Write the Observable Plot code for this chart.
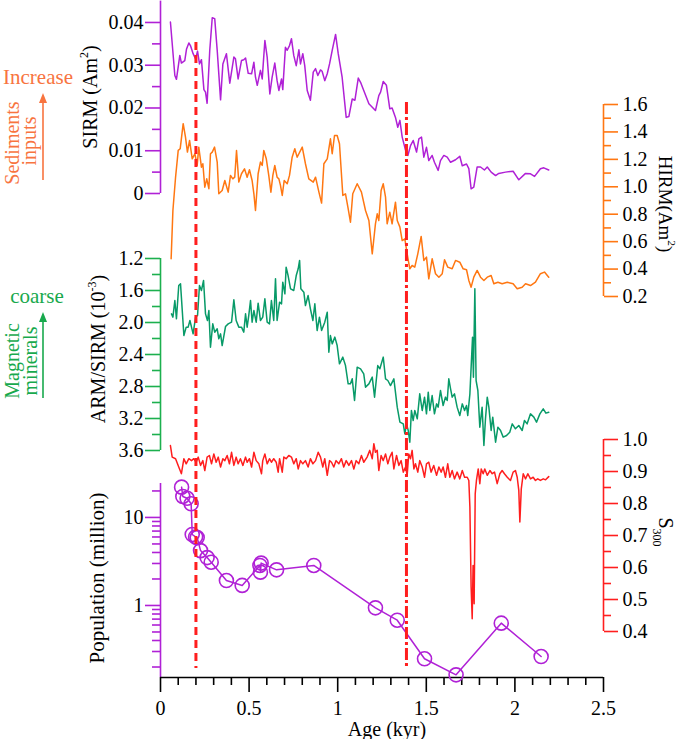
<!DOCTYPE html>
<html><head><meta charset="utf-8">
<script src="https://cdn.jsdelivr.net/npm/d3@7"></script>
<script src="https://cdn.jsdelivr.net/npm/@observablehq/plot@0.6"></script>
<style>
body{margin:0;background:#fff;font-family:"Liberation Serif","Times New Roman",serif;}
#chart{position:relative;width:678px;height:739px;}
#chart > svg{position:absolute;left:0;top:0;overflow:visible;background:transparent;}
#chart text{font-family:"Liberation Serif","Times New Roman",serif;}
</style></head><body><div id="chart"></div>
<script>
// ---- data: [age (kyr), value] ----
const sirm = [[0.056,0.0401],[0.081,0.0276],[0.090,0.0267],[0.109,0.0323],[0.118,0.0305],[0.137,0.0311],[0.147,0.0338],[0.160,0.0352],[0.169,0.0346],[0.184,0.0327],[0.198,0.0315],[0.209,0.0333],[0.220,0.0303],[0.231,0.0313],[0.245,0.0243],[0.254,0.0237],[0.263,0.0211],[0.278,0.0335],[0.292,0.0411],[0.306,0.0409],[0.320,0.0335],[0.339,0.0219],[0.352,0.0303],[0.372,0.0327],[0.391,0.0258],[0.414,0.0319],[0.423,0.0315],[0.438,0.0268],[0.457,0.0311],[0.470,0.0313],[0.480,0.0317],[0.495,0.0281],[0.514,0.0280],[0.527,0.0307],[0.536,0.0272],[0.546,0.0253],[0.564,0.0288],[0.574,0.0268],[0.589,0.0358],[0.602,0.0319],[0.617,0.0233],[0.630,0.0272],[0.645,0.0305],[0.658,0.0264],[0.668,0.0241],[0.683,0.0268],[0.690,0.0243],[0.705,0.0342],[0.715,0.0335],[0.728,0.0346],[0.739,0.0362],[0.752,0.0323],[0.766,0.0299],[0.781,0.0336],[0.790,0.0303],[0.803,0.0327],[0.814,0.0299],[0.828,0.0241],[0.846,0.0218],[0.862,0.0284],[0.875,0.0292],[0.888,0.0276],[0.903,0.0289],[0.912,0.0286],[0.927,0.0264],[0.941,0.0280],[0.954,0.0303],[0.969,0.0335],[0.988,0.0372],[1.003,0.0327],[1.025,0.0272],[1.048,0.0178],[1.063,0.0180],[1.082,0.0221],[1.097,0.0218],[1.116,0.0270],[1.129,0.0260],[1.147,0.0241],[1.176,0.0210],[1.213,0.0194],[1.232,0.0229],[1.242,0.0237],[1.257,0.0262],[1.275,0.0253],[1.294,0.0198],[1.307,0.0200],[1.326,0.0178],[1.339,0.0155],[1.351,0.0171],[1.364,0.0132],[1.383,0.0101],[1.396,0.0089],[1.411,0.0112],[1.426,0.0124],[1.445,0.0097],[1.458,0.0128],[1.473,0.0132],[1.486,0.0085],[1.501,0.0108],[1.514,0.0077],[1.533,0.0089],[1.546,0.0073],[1.567,0.0054],[1.580,0.0077],[1.599,0.0089],[1.618,0.0085],[1.637,0.0073],[1.665,0.0079],[1.689,0.0087],[1.703,0.0065],[1.727,0.0069],[1.740,0.0058],[1.753,0.0011],[1.768,0.0015],[1.787,0.0062],[1.806,0.0062],[1.828,0.0055],[1.844,0.0062],[1.866,0.0050],[1.891,0.0042],[1.909,0.0047],[1.947,0.0050],[1.990,0.0052],[2.022,0.0032],[2.060,0.0047],[2.088,0.0046],[2.111,0.0040],[2.144,0.0058],[2.163,0.0060],[2.191,0.0055]];

const hirm = [[0.060,0.475],[0.070,0.827],[0.085,1.070],[0.100,1.265],[0.111,1.277],[0.128,1.460],[0.141,1.362],[0.152,1.253],[0.164,1.338],[0.179,1.204],[0.194,1.241],[0.207,1.156],[0.216,1.289],[0.231,1.143],[0.239,1.168],[0.250,0.997],[0.261,1.058],[0.273,0.986],[0.282,1.241],[0.292,1.253],[0.305,1.289],[0.320,1.180],[0.329,0.949],[0.348,0.973],[0.363,1.046],[0.382,0.961],[0.395,1.083],[0.408,1.058],[0.419,1.070],[0.429,1.265],[0.442,1.034],[0.457,1.095],[0.474,1.131],[0.489,1.070],[0.502,1.124],[0.517,1.046],[0.527,0.949],[0.536,0.827],[0.551,1.095],[0.564,1.180],[0.574,1.156],[0.583,1.265],[0.597,1.204],[0.611,1.083],[0.623,0.961],[0.634,1.083],[0.645,1.156],[0.658,1.070],[0.668,1.058],[0.677,1.010],[0.687,0.937],[0.698,1.046],[0.715,1.022],[0.728,1.083],[0.743,1.216],[0.758,1.277],[0.771,1.216],[0.781,1.241],[0.800,1.289],[0.818,1.168],[0.837,1.058],[0.862,1.034],[0.875,1.070],[0.894,0.961],[0.909,0.881],[0.922,1.168],[0.941,1.204],[0.959,1.350],[0.969,1.241],[0.982,1.374],[0.997,1.374],[1.010,1.314],[1.029,0.937],[1.044,0.949],[1.059,0.840],[1.072,0.742],[1.085,0.949],[1.110,1.022],[1.134,0.961],[1.157,0.827],[1.176,0.754],[1.195,0.511],[1.213,0.730],[1.223,0.803],[1.232,0.754],[1.245,0.973],[1.257,1.022],[1.270,0.924],[1.279,0.730],[1.294,0.815],[1.307,0.730],[1.326,0.888],[1.336,0.754],[1.351,0.706],[1.364,0.608],[1.379,0.621],[1.392,0.511],[1.407,0.402],[1.420,0.426],[1.435,0.414],[1.452,0.511],[1.471,0.638],[1.486,0.463],[1.501,0.487],[1.514,0.329],[1.533,0.475],[1.552,0.366],[1.571,0.341],[1.590,0.366],[1.603,0.468],[1.621,0.414],[1.646,0.402],[1.665,0.463],[1.689,0.450],[1.708,0.402],[1.727,0.395],[1.740,0.317],[1.753,0.268],[1.768,0.341],[1.787,0.390],[1.806,0.341],[1.825,0.317],[1.844,0.341],[1.866,0.353],[1.881,0.293],[1.904,0.304],[1.928,0.293],[1.957,0.304],[1.990,0.293],[2.013,0.256],[2.041,0.268],[2.060,0.293],[2.088,0.280],[2.116,0.304],[2.144,0.366],[2.167,0.378],[2.191,0.341]];

const armSirm = [[0.062,1.892],[0.070,1.933],[0.081,1.725],[0.090,1.954],[0.103,1.538],[0.113,1.517],[0.132,2.163],[0.145,2.058],[0.156,2.058],[0.166,1.975],[0.175,2.058],[0.184,2.142],[0.198,1.933],[0.209,1.913],[0.220,1.538],[0.231,1.600],[0.243,1.475],[0.254,1.892],[0.265,1.975],[0.273,1.850],[0.282,2.308],[0.295,2.017],[0.306,2.121],[0.320,2.079],[0.329,2.204],[0.339,2.142],[0.348,2.288],[0.367,2.050],[0.382,2.017],[0.401,1.996],[0.414,1.717],[0.427,1.975],[0.442,2.058],[0.457,2.058],[0.470,2.121],[0.480,1.892],[0.489,2.058],[0.498,1.913],[0.508,1.725],[0.517,1.996],[0.527,1.850],[0.540,1.996],[0.551,1.758],[0.564,1.975],[0.577,1.933],[0.589,1.704],[0.602,1.996],[0.615,2.017],[0.626,1.725],[0.639,1.975],[0.649,1.454],[0.658,1.975],[0.672,1.746],[0.683,1.767],[0.690,1.496],[0.702,1.642],[0.709,1.308],[0.720,1.413],[0.734,1.579],[0.752,1.600],[0.766,1.413],[0.777,1.329],[0.785,1.225],[0.792,1.579],[0.809,1.621],[0.818,1.788],[0.833,1.663],[0.846,1.829],[0.860,1.975],[0.871,1.767],[0.884,2.100],[0.897,1.933],[0.909,2.100],[0.927,1.996],[0.941,1.871],[0.950,2.371],[0.959,2.163],[0.969,2.267],[0.984,2.183],[0.997,2.288],[1.010,2.517],[1.029,2.433],[1.044,2.538],[1.059,2.767],[1.072,2.767],[1.082,2.704],[1.095,2.975],[1.110,2.558],[1.129,2.579],[1.147,2.642],[1.157,2.808],[1.176,2.767],[1.195,2.683],[1.208,2.933],[1.226,2.538],[1.238,2.579],[1.257,2.433],[1.270,2.704],[1.283,2.725],[1.298,2.788],[1.317,2.704],[1.336,3.058],[1.351,3.246],[1.370,3.267],[1.379,3.392],[1.388,3.267],[1.398,3.350],[1.407,3.496],[1.416,3.100],[1.426,3.225],[1.435,3.100],[1.449,3.204],[1.463,2.892],[1.477,3.100],[1.490,2.933],[1.501,3.142],[1.511,2.871],[1.520,3.100],[1.533,2.913],[1.546,3.142],[1.558,3.017],[1.567,3.058],[1.580,2.850],[1.595,3.038],[1.608,2.933],[1.618,2.975],[1.627,2.704],[1.637,2.829],[1.646,2.933],[1.659,2.892],[1.674,3.058],[1.689,3.163],[1.703,3.017],[1.716,3.100],[1.727,3.038],[1.734,3.163],[1.746,2.892],[1.753,2.558],[1.761,2.183],[1.766,2.683],[1.774,1.579],[1.781,2.725],[1.791,2.850],[1.802,3.308],[1.815,3.058],[1.825,3.538],[1.834,3.204],[1.844,2.933],[1.853,3.058],[1.866,3.350],[1.875,3.183],[1.891,3.496],[1.904,3.308],[1.919,3.350],[1.934,3.433],[1.953,3.413],[1.971,3.371],[1.985,3.267],[2.003,3.329],[2.022,3.288],[2.041,3.350],[2.054,3.225],[2.069,3.267],[2.088,3.142],[2.107,3.183],[2.122,3.246],[2.141,3.142],[2.160,3.079],[2.175,3.133],[2.191,3.121]];

const s300 = [[0.056,0.981],[0.066,0.945],[0.085,0.940],[0.103,0.914],[0.118,0.893],[0.132,0.940],[0.145,0.924],[0.160,0.940],[0.175,0.934],[0.188,0.940],[0.201,0.929],[0.213,0.945],[0.226,0.919],[0.239,0.934],[0.250,0.903],[0.263,0.945],[0.276,0.950],[0.288,0.924],[0.301,0.955],[0.314,0.929],[0.326,0.945],[0.339,0.914],[0.352,0.940],[0.363,0.934],[0.376,0.950],[0.389,0.924],[0.401,0.960],[0.414,0.919],[0.427,0.945],[0.438,0.924],[0.451,0.940],[0.465,0.919],[0.480,0.945],[0.489,0.929],[0.502,0.940],[0.514,0.914],[0.527,0.960],[0.540,0.934],[0.555,0.924],[0.570,0.893],[0.577,0.934],[0.589,0.955],[0.602,0.924],[0.615,0.940],[0.626,0.929],[0.639,0.940],[0.653,0.929],[0.664,0.898],[0.672,0.940],[0.687,0.898],[0.696,0.945],[0.709,0.940],[0.724,0.950],[0.739,0.945],[0.752,0.924],[0.766,0.940],[0.777,0.908],[0.790,0.934],[0.803,0.924],[0.818,0.934],[0.833,0.914],[0.846,0.940],[0.860,0.924],[0.875,0.934],[0.890,0.960],[0.903,0.945],[0.916,0.914],[0.927,0.940],[0.941,0.888],[0.954,0.934],[0.965,0.929],[0.978,0.914],[0.991,0.934],[1.006,0.924],[1.021,0.940],[1.034,0.914],[1.048,0.934],[1.063,0.919],[1.078,0.934],[1.091,0.908],[1.104,0.934],[1.119,0.924],[1.134,0.950],[1.147,0.929],[1.166,0.945],[1.181,0.966],[1.195,0.940],[1.204,0.987],[1.213,0.960],[1.223,0.966],[1.232,0.903],[1.245,0.950],[1.257,0.934],[1.270,0.955],[1.283,0.924],[1.294,0.945],[1.307,0.960],[1.317,0.908],[1.332,0.950],[1.345,0.919],[1.358,0.934],[1.370,0.898],[1.383,0.914],[1.392,0.888],[1.401,0.955],[1.411,0.940],[1.420,0.966],[1.430,0.908],[1.439,0.924],[1.452,0.898],[1.463,0.934],[1.477,0.914],[1.490,0.882],[1.501,0.924],[1.514,0.929],[1.527,0.898],[1.542,0.919],[1.558,0.888],[1.571,0.914],[1.584,0.898],[1.595,0.914],[1.608,0.882],[1.621,0.924],[1.633,0.882],[1.646,0.903],[1.659,0.877],[1.674,0.898],[1.689,0.877],[1.703,0.903],[1.716,0.882],[1.731,0.882],[1.740,0.872],[1.746,0.788],[1.753,0.538],[1.759,0.440],[1.764,0.606],[1.770,0.487],[1.776,0.830],[1.783,0.872],[1.793,0.908],[1.802,0.862],[1.810,0.908],[1.821,0.893],[1.830,0.908],[1.844,0.888],[1.859,0.903],[1.872,0.893],[1.885,0.898],[1.900,0.862],[1.915,0.893],[1.928,0.903],[1.941,0.893],[1.957,0.882],[1.975,0.872],[1.990,0.898],[2.003,0.903],[2.013,0.882],[2.022,0.841],[2.028,0.742],[2.036,0.846],[2.047,0.893],[2.060,0.877],[2.073,0.893],[2.088,0.877],[2.103,0.882],[2.116,0.872],[2.129,0.877],[2.144,0.872],[2.160,0.877],[2.173,0.874],[2.191,0.884]];

const population = [[0.119,22.1],[0.126,17.3],[0.150,16.5],[0.173,14.3],[0.179,6.4],[0.198,6.0],[0.207,5.9],[0.226,4.2],[0.263,3.5],[0.286,3.1],[0.372,1.92],[0.461,1.69],[0.561,2.85],[0.564,2.39],[0.568,3.03],[0.655,2.54],[0.865,2.85],[1.213,0.94],[1.336,0.68],[1.490,0.248],[1.668,0.163],[1.923,0.63],[2.148,0.263]];

// boundary ages (dashed lines)
const boundaries = [0.2, 1.388];

// ---- ticks ----
const ageTicks = [0,0.5,1,1.5,2,2.5];
const ageLabels = ["0","0.5","1","1.5","2","2.5"];
const ageMinor = [0.1,0.2,0.3,0.4,0.6,0.7,0.8,0.9,1.1,1.2,1.3,1.4,1.6,1.7,1.8,1.9,2.1,2.2,2.3,2.4];
const sirmTicks = [0,0.01,0.02,0.03,0.04];
const sirmLabels = ["0","0.01","0.02","0.03","0.04"];
const sirmMinor = [0.005,0.015,0.025,0.035];
const hirmTicks = [0.2,0.4,0.6,0.8,1.0,1.2,1.4,1.6];
const hirmLabels = ["0.2","0.4","0.6","0.8","1.0","1.2","1.4","1.6"];
const hirmMinor = [0.3,0.5,0.7,0.9,1.1,1.3,1.5];
const armTicks = [1.2,1.6,2.0,2.4,2.8,3.2,3.6];
const armLabels = ["1.2","1.6","2.0","2.4","2.8","3.2","3.6"];
const armMinor = [1.4,1.8,2.2,2.6,3.0,3.4];
const s300Ticks = [0.4,0.5,0.6,0.7,0.8,0.9,1.0];
const s300Labels = ["0.4","0.5","0.6","0.7","0.8","0.9","1.0"];
const s300Minor = [0.45,0.55,0.65,0.75,0.85,0.95];
const popTicks = [1,10];
const popLabels = ["1","10"];
const popMinor = [0.2,0.3,0.4,0.5,0.6,0.7,0.8,0.9,2,3,4,5,6,7,8,9,20];

// ---- styling ----
const W = 678, H = 739;
const FONT = '"Liberation Serif", "Times New Roman", serif';
const PURPLE = "#b021d6", ORANGE = "#ff7712", GREEN_LINE = "#089a68", GREEN_AXIS = "#1cb04e", RED = "#ff1e1e";

function panel(top, bottom, y, marks) {
  return Plot.plot({
    width: W, height: H,
    marginLeft: 160, marginRight: 75, marginTop: top, marginBottom: H - bottom,
    x: {domain: [0, 2.5], axis: null},
    y: y ? {...y, axis: null} : undefined,
    style: {fontFamily: FONT, fontSize: "20px", background: "transparent", overflow: "visible"},
    marks
  });
}

function yAxis(anchor, ticks, labels, minor, color, domain) {
  const left = anchor === "left";
  return [
    Plot.ruleX([left ? 0 : 2.5], {y1: domain[0], y2: domain[1], stroke: color, strokeWidth: 1.6}),
    Plot.axisY({anchor, ticks, tickSize: left ? 15 : 14, tickPadding: left ? 2 : 5, stroke: color, strokeWidth: 1.6,
      fill: "black", fontSize: 20, tickFormat: v => labels[ticks.indexOf(v)], label: null}),
    Plot.axisY({anchor, ticks: minor, tickSize: left ? 8 : 7, stroke: color, strokeWidth: 1.6, tickFormat: () => "", label: null})
  ];
}

const X = d => d[0], Y = d => d[1];
const chart = document.getElementById("chart");

// SIRM panel
chart.append(panel(0.6, 193, {domain: [0, 0.045]}, [
  ...yAxis("left", sirmTicks, sirmLabels, sirmMinor, PURPLE, [0, 0.045]),
  Plot.line(sirm, {x: X, y: Y, stroke: PURPLE, strokeWidth: 1.5})
]));

// HIRM panel
chart.append(panel(104, 296, {domain: [0.2, 1.6]}, [
  ...yAxis("right", hirmTicks, hirmLabels, hirmMinor, ORANGE, [0.2, 1.6]),
  Plot.line(hirm, {x: X, y: Y, stroke: ORANGE, strokeWidth: 1.5})
]));

// ARM/SIRM panel (reversed)
chart.append(panel(258, 450, {domain: [1.2, 3.6], reverse: true}, [
  ...yAxis("left", armTicks, armLabels, armMinor, GREEN_AXIS, [1.2, 3.6]),
  Plot.line(armSirm, {x: X, y: Y, stroke: GREEN_LINE, strokeWidth: 1.5})
]));

// S300 panel
chart.append(panel(439, 631, {domain: [0.4, 1.0]}, [
  ...yAxis("right", s300Ticks, s300Labels, s300Minor, RED, [0.4, 1.0]),
  Plot.line(s300, {x: X, y: Y, stroke: RED, strokeWidth: 1.5})
]));

// Population panel with age axis
chart.append(panel(483, 677, {type: "log", domain: [0.152, 24.3]}, [
  ...yAxis("left", popTicks, popLabels, popMinor, PURPLE, [0.152, 24.3]),
  Plot.ruleY([0.152], {stroke: "black", strokeWidth: 1.6}),
  Plot.axisX({anchor: "bottom", ticks: ageTicks, tickSize: 15, tickPadding: 8, stroke: "black", strokeWidth: 1.6,
    fill: "black", fontSize: 20, tickFormat: v => ageLabels[ageTicks.indexOf(v)], label: null}),
  Plot.axisX({anchor: "bottom", ticks: ageMinor, tickSize: 8, stroke: "black", strokeWidth: 1.6, tickFormat: () => "", label: null}),
  Plot.line(population, {x: X, y: Y, stroke: PURPLE, strokeWidth: 1.5}),
  Plot.dot(population, {x: X, y: Y, r: 7, stroke: PURPLE, strokeWidth: 1.6, fill: "none"})
]));

// boundary lines
chart.append(panel(42, 668, null, [
  Plot.ruleX([boundaries[0]], {stroke: RED, strokeWidth: 3, strokeDasharray: "8,5"})
]));
chart.append(panel(102, 666, null, [
  Plot.ruleX([boundaries[1]], {stroke: RED, strokeWidth: 3, strokeDasharray: "12,3,3,3"})
]));

// ---- titles and annotations ----
const ov = d3.create("svg").attr("width", W).attr("height", H)
  .attr("font-family", FONT).style("overflow", "visible");

function label(x, y, rot, parts, {size = 20, fill = "black", anchor = "middle"} = {}) {
  const t = ov.append("text")
    .attr("transform", `translate(${x},${y}) rotate(${rot})`)
    .attr("font-family", FONT)
    .attr("text-anchor", anchor).attr("fill", fill).attr("font-size", size);
  for (const [s, kind] of parts) {
    const sp = t.append("tspan").text(s);
    if (kind === "sup") sp.attr("font-size", size * 0.6).attr("dy", -size * 0.45);
    else if (kind === "sub") sp.attr("font-size", size * 0.6).attr("dy", size * 0.3);
    else if (kind === "back-sup") sp.attr("dy", size * 0.45);
  }
}
label(97, 97, -90, [["SIRM (Am"], ["2", "sup"], [")", "back-sup"]]);
label(105, 349, -90, [["ARM/SIRM (10"], ["-3", "sup"], [")", "back-sup"]]);
label(104, 578, -90, [["Population (million)"]], {size: 21});
label(659, 204, 90, [["HIRM(Am"], ["2", "sup"], [")", "back-sup"]], {size: 19});
label(659, 532, 90, [["S"], ["300", "sub"]]);
label(387, 736, 0, [["Age (kyr)"]]);

const ANN_OR = "#f8743f", ANN_GR = "#18a94d";
label(38, 84, 0, [["Increase"]], {size: 21, fill: ANN_OR});
label(19, 143, -90, [["Sediments"]], {size: 20, fill: ANN_OR});
label(36, 141, -90, [["inputs"]], {size: 20, fill: ANN_OR});
label(37, 303, 0, [["coarse"]], {size: 21, fill: ANN_GR});
label(19, 361, -90, [["Magnetic"]], {size: 20, fill: ANN_GR});
label(37, 361, -90, [["minerals"]], {size: 20, fill: ANN_GR});

function arrow(x, y0, y1, color) {
  ov.append("line").attr("x1", x).attr("x2", x).attr("y1", y0).attr("y2", y1 + 8)
    .attr("stroke", color).attr("stroke-width", 1.6);
  ov.append("path").attr("d", `M${x},${y1} L${x - 4},${y1 + 10} L${x + 4},${y1 + 10} Z`).attr("fill", color);
}
arrow(43, 180, 93, ANN_OR);
arrow(43, 398, 312, ANN_GR);

chart.append(ov.node());
</script></body></html>
